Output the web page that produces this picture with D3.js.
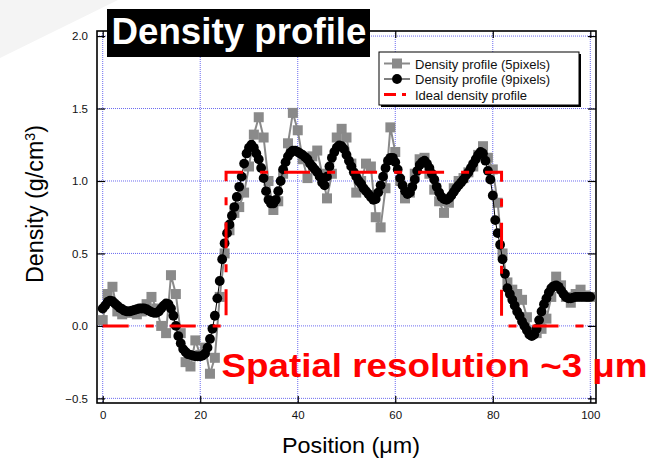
<!DOCTYPE html>
<html><head><meta charset="utf-8">
<script src="https://cdn.jsdelivr.net/npm/d3@7"></script>
<style>body{margin:0;background:#fff}svg{display:block;font-family:Arial,"Liberation Sans",sans-serif}</style>
</head><body><svg id="c" width="653" height="459"></svg>
<script>
// ---- data ----
const xTicks = [0, 20, 40, 60, 80, 100];
const yTicks = [-0.5, 0.0, 0.5, 1.0, 1.5, 2.0];
const seriesNames = ["Density profile (5pixels)", "Density profile (9pixels)", "Ideal density profile"];
// 5-pixel profile, positions 0..100 step 1 µm
const pos5 = d3.range(0, 101, 1);
const dens5 = [0.04,0.22,0.27,0.10,0.08,0.09,0.10,0.08,0.10,0.15,0.20,0.12,0.00,-0.05,0.35,0.22,-0.05,-0.25,-0.28,-0.10,
  -0.20,-0.15,-0.33,-0.22,0.20,0.50,0.66,0.78,0.82,0.92,1.10,1.32,1.44,1.30,1.00,0.80,0.86,1.05,1.26,1.47,
  1.35,1.15,1.02,1.17,1.21,1.05,0.88,1.05,1.30,1.36,1.30,1.12,0.92,1.00,1.12,1.10,0.75,0.68,0.95,1.37,
  1.20,1.00,0.88,0.92,1.05,1.15,1.16,1.05,0.94,0.86,0.78,0.85,0.95,1.00,1.02,1.06,1.10,1.18,1.24,1.16,
  1.08,0.85,0.50,0.30,0.25,0.22,0.18,0.06,-0.04,-0.05,-0.02,0.05,0.20,0.34,0.28,0.20,0.16,0.22,0.25,0.21,0.20];
// 9-pixel profile, positions 0..100 step 0.5 µm
const pos9 = d3.range(0, 100.25, 0.5);
const dens9 = [0.12,0.14,0.165,0.175,0.17,0.155,0.14,0.125,0.115,0.105,0.10,0.10,0.105,0.11,0.115,0.12,0.12,0.12,0.115,0.105,
  0.095,0.09,0.09,0.10,0.12,0.14,0.155,0.15,0.12,0.07,0.00,-0.07,-0.12,-0.16,-0.18,-0.195,-0.20,-0.205,-0.21,-0.21,
  -0.21,-0.205,-0.19,-0.15,-0.09,-0.02,0.07,0.19,0.31,0.46,0.57,0.64,0.70,0.76,0.82,0.89,0.96,1.03,1.12,1.19,
  1.23,1.25,1.23,1.19,1.15,1.09,1.02,0.93,0.87,0.845,0.845,0.87,0.93,1.00,1.08,1.13,1.17,1.195,1.21,1.21,
  1.20,1.19,1.18,1.165,1.15,1.12,1.10,1.08,1.06,1.03,0.99,0.97,1.03,1.10,1.16,1.20,1.23,1.245,1.24,1.22,
  1.18,1.14,1.10,1.06,1.03,1.00,0.98,0.95,0.93,0.91,0.89,0.87,0.875,0.92,0.97,1.03,1.09,1.14,1.16,1.16,
  1.13,1.08,1.02,0.97,0.93,0.91,0.92,0.96,1.01,1.07,1.11,1.13,1.14,1.12,1.09,1.05,1.01,0.96,0.92,0.89,
  0.875,0.87,0.88,0.90,0.925,0.95,0.97,0.99,1.01,1.04,1.06,1.09,1.12,1.15,1.18,1.20,1.19,1.14,1.07,1.01,
  0.90,0.73,0.64,0.56,0.46,0.36,0.26,0.22,0.18,0.14,0.10,0.07,0.03,0.00,-0.03,-0.06,-0.07,-0.06,-0.02,0.04,
  0.10,0.15,0.19,0.23,0.26,0.275,0.28,0.27,0.245,0.22,0.20,0.19,0.19,0.195,0.20,0.20,0.20,0.20,0.20,0.20,0.20];
// ideal step profile
const idealPos = [0, 25.3, 25.3, 81.8, 81.8, 100];
const idealDens = [0, 0, 1.06, 1.06, 0, 0];
const titleText = "Density profile";
const noteText = "Spatial resolution ~3 \u03bcm";
const xLabel = "Position (\u03bcm)";
const yLabel = "Density (g/cm";

// ---- chart ----
const svg = d3.select("#c");
const L = 97, R = 596, T = 31, B = 403;
const x = d3.scaleLinear().domain([-1.17, 101.17]).range([L, R]);
const y = d3.scaleLinear().domain([-0.532, 2.035]).range([B, T]);

// faint background artifact
svg.append("path").attr("d", "M0,0L118,0L0,58Z").attr("fill", "#f4f4f4");

// grid
const grid = svg.append("g").attr("stroke", "#6b6bf0").attr("stroke-width", 1).attr("stroke-dasharray", "1,1");
xTicks.forEach(t => grid.append("line").attr("x1", x(t)).attr("x2", x(t)).attr("y1", T).attr("y2", B));
yTicks.forEach(t => grid.append("line").attr("y1", y(t)).attr("y2", y(t)).attr("x1", L).attr("x2", R));

// axes
function styleAxis(g) { g.select(".domain").remove(); g.selectAll(".tick line").attr("stroke", "#000").attr("stroke-width", 1.2); g.selectAll("text").attr("font-size", 11.5).attr("fill", "#111").attr("font-family", "Arial, 'Liberation Sans', sans-serif"); }
svg.append("g").attr("transform", `translate(0,${B})`).call(d3.axisBottom(x).tickValues(xTicks).tickSize(-7).tickPadding(8).tickFormat(d3.format("d"))).call(styleAxis);
svg.append("g").attr("transform", `translate(0,${T})`).call(d3.axisTop(x).tickValues(xTicks).tickSize(-7).tickFormat("")).call(styleAxis);
svg.append("g").attr("transform", `translate(${L},0)`).call(d3.axisLeft(y).tickValues(yTicks).tickSize(-8).tickPadding(9).tickFormat(d3.format(".1f"))).call(styleAxis);
svg.append("g").attr("transform", `translate(${R},0)`).call(d3.axisRight(y).tickValues(yTicks).tickSize(-8).tickFormat("")).call(styleAxis);
svg.append("rect").attr("x", L).attr("y", T).attr("width", R - L).attr("height", B - T).attr("fill", "none").attr("stroke", "#000").attr("stroke-width", 1.6);

// clip
svg.append("clipPath").attr("id", "clip").append("rect").attr("x", L).attr("y", T).attr("width", R - L).attr("height", B - T);
const plot = svg.append("g").attr("clip-path", "url(#clip)");

const d5 = pos5.map((p, i) => [p, dens5[i]]);
const d9 = pos9.map((p, i) => [p, dens9[i]]);
const dI = idealPos.map((p, i) => [p, idealDens[i]]);
const line = d3.line().x(d => x(d[0])).y(d => y(d[1]));

plot.append("path").datum(d5).attr("d", line).attr("fill", "none").attr("stroke", "#8a8a8a").attr("stroke-width", 2);
plot.append("g").selectAll("rect").data(d5).join("rect")
  .attr("x", d => x(d[0]) - 5).attr("y", d => y(d[1]) - 5).attr("width", 10).attr("height", 10).attr("fill", "#8a8a8a");

plot.append("path").datum(d9).attr("d", line).attr("fill", "none").attr("stroke", "#000").attr("stroke-width", 1);
plot.append("g").selectAll("circle").data(d9).join("circle")
  .attr("cx", d => x(d[0])).attr("cy", d => y(d[1])).attr("r", 4.9).attr("fill", "#000");

plot.append("path").datum(dI).attr("d", line).attr("fill", "none").attr("stroke", "#ff0000").attr("stroke-width", 3)
  .attr("stroke-dasharray", "26,17,8,16");

// axis titles
svg.append("text").attr("x", 351).attr("y", 453).attr("text-anchor", "middle").attr("font-size", 22)
  .attr("textLength", 138).attr("lengthAdjust", "spacingAndGlyphs").text(xLabel);
const yl = svg.append("text").attr("transform", "translate(43,204) rotate(-90)").attr("text-anchor", "middle").attr("font-size", 23)
  .attr("textLength", 158).attr("lengthAdjust", "spacingAndGlyphs");
yl.append("tspan").text(yLabel);
yl.append("tspan").attr("dy", -8).attr("font-size", 14).text("3");
yl.append("tspan").attr("dy", 8).text(")");

// legend
const lg = svg.append("g");
lg.append("rect").attr("x", 381).attr("y", 54).attr("width", 200).attr("height", 53).attr("fill", "#000");
lg.append("rect").attr("x", 379).attr("y", 52).attr("width", 200).attr("height", 53).attr("fill", "#fff").attr("stroke", "#000").attr("stroke-width", 1);
const ly = [63.5, 79, 94.5];
lg.append("line").attr("x1", 384).attr("x2", 410).attr("y1", ly[0]).attr("y2", ly[0]).attr("stroke", "#8a8a8a").attr("stroke-width", 2);
lg.append("rect").attr("x", 392).attr("y", ly[0] - 5).attr("width", 10).attr("height", 10).attr("fill", "#8a8a8a");
lg.append("line").attr("x1", 384).attr("x2", 410).attr("y1", ly[1]).attr("y2", ly[1]).attr("stroke", "#000").attr("stroke-width", 1);
lg.append("circle").attr("cx", 397).attr("cy", ly[1]).attr("r", 4.9).attr("fill", "#000");
lg.append("line").attr("x1", 384).attr("x2", 406).attr("y1", ly[2]).attr("y2", ly[2]).attr("stroke", "#ff0000").attr("stroke-width", 3).attr("stroke-dasharray", "12,6,4,20");
seriesNames.forEach((n, i) => lg.append("text").attr("x", 415).attr("y", ly[i] + 5).attr("font-size", 13).attr("fill", "#111").text(n));

// title box
svg.append("rect").attr("x", 107).attr("y", 9).attr("width", 263).attr("height", 48).attr("fill", "#000");
svg.append("text").attr("x", 111.5).attr("y", 43.5).attr("font-size", 36).attr("font-weight", "bold").attr("fill", "#fff")
  .attr("textLength", 255).attr("lengthAdjust", "spacingAndGlyphs").text(titleText);

// annotation
svg.append("text").attr("x", 221.5).attr("y", 377).attr("font-size", 33).attr("font-weight", "bold").attr("fill", "#ff0000")
  .attr("textLength", 426).attr("lengthAdjust", "spacingAndGlyphs").text(noteText);
</script></body></html>
